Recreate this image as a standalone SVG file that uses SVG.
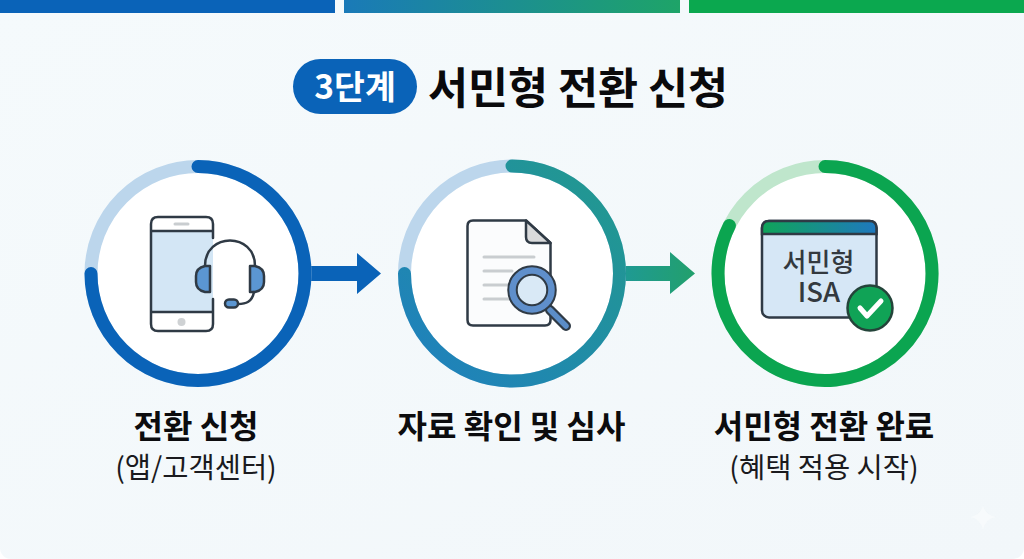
<svg xmlns="http://www.w3.org/2000/svg" width="1024" height="559" viewBox="0 0 1024 559">
<defs>
<linearGradient id="bg" x1="0" y1="0" x2="1" y2="1"><stop offset="0" stop-color="#f5fafc"/><stop offset="1" stop-color="#f2f7fa"/></linearGradient>
<linearGradient id="bar2" x1="344" y1="0" x2="680" y2="0" gradientUnits="userSpaceOnUse"><stop offset="0" stop-color="#1a7ab8"/><stop offset="1" stop-color="#1ea468"/></linearGradient>
<linearGradient id="ring2" x1="400" y1="380" x2="625" y2="170" gradientUnits="userSpaceOnUse"><stop offset="0" stop-color="#1f7fc0"/><stop offset="1" stop-color="#229a8c"/></linearGradient>
<linearGradient id="arrow2" x1="627" y1="0" x2="695" y2="0" gradientUnits="userSpaceOnUse"><stop offset="0" stop-color="#1f9a92"/><stop offset="1" stop-color="#22a06c"/></linearGradient>
<linearGradient id="tbar" x1="761" y1="0" x2="877" y2="0" gradientUnits="userSpaceOnUse"><stop offset="0" stop-color="#0fa558"/><stop offset="1" stop-color="#1f78bf"/></linearGradient>
<style>
text{font-family:"Noto Sans CJK KR","Noto Sans",sans-serif;text-anchor:middle}
.h{font-weight:700;font-size:32px;fill:#0c0c0e}
.s{font-weight:400;font-size:28.500px;fill:#1a1a1e}
.ring{fill:none;stroke-width:13;stroke-linecap:round}
.ln{fill:none;stroke:#2f3a45;stroke-width:2.5;stroke-linecap:round;stroke-linejoin:round}
.g{stroke:#c9cdd0;stroke-width:3;stroke-linecap:round;fill:none}
</style>
</defs>
<rect width="1024" height="559" fill="#ffffff"/>
<rect width="1024" height="559" rx="11" fill="url(#bg)"/>
<g id="top-bars">
<rect x="0" y="0" width="335" height="13" fill="#0a63b8"/>
<rect x="344" y="0" width="336" height="13" fill="url(#bar2)"/>
<rect x="689" y="0" width="335" height="13" fill="#0ba84f"/>
</g>
<g id="title">
<rect x="293" y="59" width="124" height="55" rx="27.5" fill="#0a63b8"/>
<text x="355" y="99" font-size="33.500" font-weight="700" fill="#ffffff">3단계</text>
<text x="578" y="104" font-size="43.500" font-weight="700" fill="#0a0a0c">서민형 전환 신청</text>
</g>
<g id="connectors">
<path d="M303 266H357V253L381 273.5L357 294V281H303Z" fill="#0a63b8"/>
<path d="M617 266H670V252L695 273.5L670 294V281H617Z" fill="url(#arrow2)"/>
</g>
<g id="step1">
<circle cx="198" cy="273.5" r="101" fill="#ffffff"/>
<circle class="ring" cx="198" cy="273.5" r="107" stroke="#bcd6ec"/>
<path class="ring" d="M198 166.5A107 107 0 1 1 91 273.5" stroke="#0a63b8"/>
<rect x="151" y="231" width="62" height="81" fill="#d3e6f5"/>
<path class="ln" d="M213 238V224Q213 217 206 217H158Q151 217 151 224V324Q151 331 158 331H206Q213 331 213 324V299M151 231H213M151 312H213"/>
<path d="M175 224H188" stroke="#c9cdd0" stroke-width="3" stroke-linecap="round"/>
<circle cx="181.500" cy="322" r="4" fill="#cfd2d4"/>
<path class="ln" d="M205 266C205 232 255 232 255 266"/>
<path class="ln" d="M210 266V292H205Q196 290 196 282V276Q196 268 205 266Z" style="fill:#5b96d2"/>
<path class="ln" d="M250 266V292H255Q264 290 264 282V276Q264 268 255 266Z" style="fill:#5b96d2"/>
<path class="ln" d="M254 292C252 302 246 304 238 304"/>
<rect x="225" y="299.500" width="13" height="8" rx="4" class="ln" style="fill:#5b96d2"/>
<text class="h" x="196" y="438">전환 신청</text>
<text class="s" x="196" y="478">(앱/고객센터)</text>
</g>
<g id="step2">
<circle cx="512" cy="273.5" r="101" fill="#ffffff"/>
<circle class="ring" cx="512" cy="273.5" r="107.500" stroke="#bcd6ec"/>
<path class="ring" d="M512 166A107.500 107.500 0 1 1 404.500 273.500" stroke="url(#ring2)"/>
<path class="ln" d="M526 220.500H473Q467.500 220.500 467.500 226V320Q467.500 325.500 473 325.500H545Q550.500 325.500 550.500 320V243Z" style="fill:#fbfcfd"/>
<path class="ln" d="M526 220.500V237Q526 243 532 243H550.500Z" style="fill:#d9dadb"/>
<path class="g" d="M484 257H534M484 271H512M484 285H510M484 299H510"/>
<path d="M550 310L566 326" stroke="#2f3a45" stroke-width="10" stroke-linecap="round"/>
<path d="M550 310L566 326" stroke="#5b8dc8" stroke-width="5.500" stroke-linecap="round"/>
<circle cx="532" cy="290" r="19.500" fill="#d9e9f6" stroke="#2f3a45" stroke-width="10.500"/>
<circle cx="532" cy="290" r="19.500" fill="none" stroke="#5f8fcb" stroke-width="6.500"/>
<text class="h" x="511.500" y="438">자료 확인 및 심사</text>
</g>
<g id="step3">
<circle cx="825" cy="273.5" r="101" fill="#ffffff"/>
<circle class="ring" cx="825" cy="273.5" r="107" stroke="#bfe6cc"/>
<path class="ring" d="M825 166.500A107 107 0 1 1 729.400 225.500" stroke="#0ba550"/>
<rect x="762" y="221" width="114.500" height="96.500" rx="7" fill="#d6e7f6" stroke="#2f3a45" stroke-width="2.500"/>
<path d="M762 234V228Q762 221 769 221H869.500Q876.500 221 876.500 228V234Z" fill="url(#tbar)" stroke="#2f3a45" stroke-width="2.500"/>
<text x="818.500" y="272" font-size="26" font-weight="500" fill="#33393f">서민형</text>
<text x="819" y="302" font-size="27.500" font-weight="500" fill="#33393f">ISA</text>
<circle cx="870" cy="308" r="22.500" fill="#10a356" stroke="#24443a" stroke-width="2.500"/>
<path d="M860 308L867 316L881 301" fill="none" stroke="#ffffff" stroke-width="5" stroke-linecap="round" stroke-linejoin="round"/>
<text class="h" x="824" y="438">서민형 전환 완료</text>
<text class="s" x="824" y="478">(혜택 적용 시작)</text>
</g>
<path id="sparkle" d="M983 505Q985 515 996 517Q985 519 983 530Q981 519 970 517Q981 515 983 505Z" fill="#fbfdfe" opacity="0.5"/>
</svg>
